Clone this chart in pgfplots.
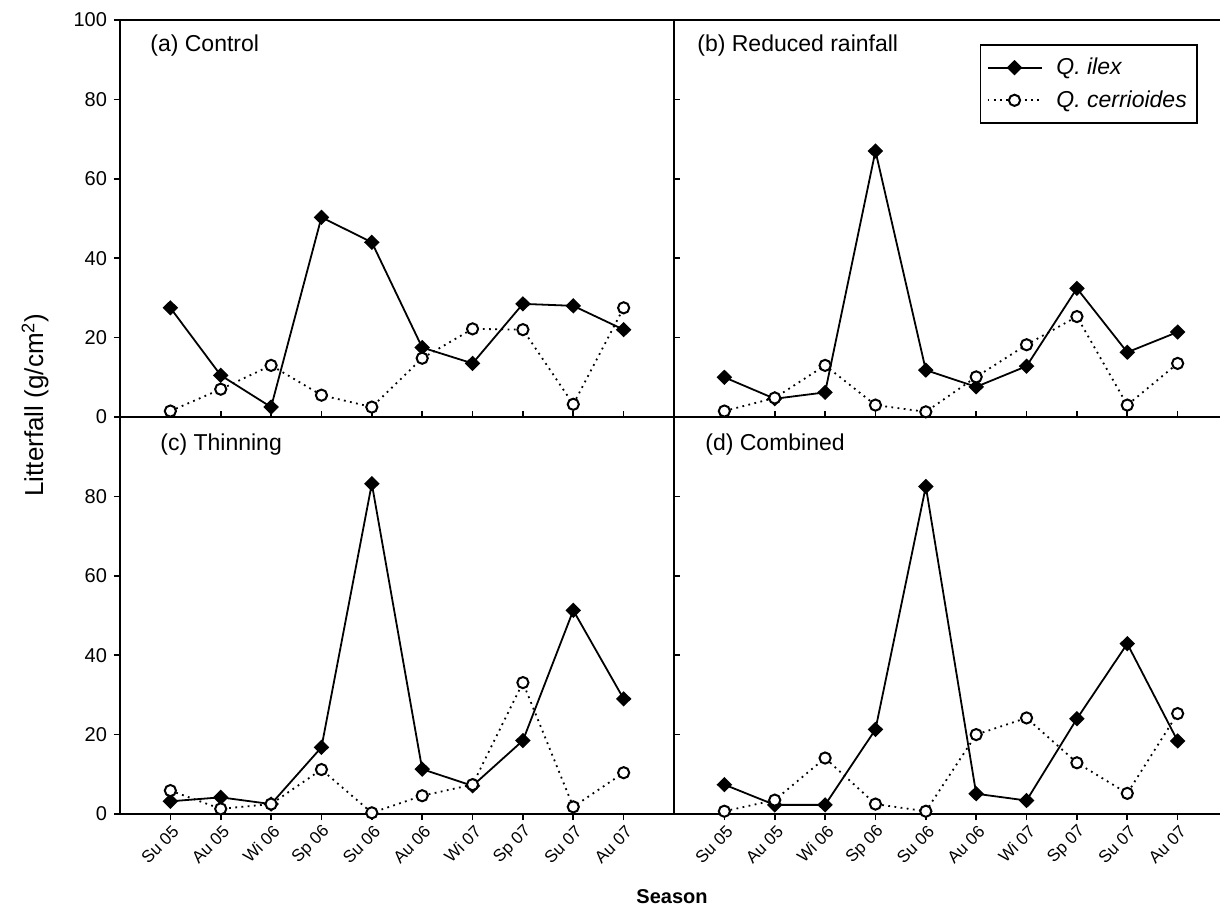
\documentclass[border=0pt]{standalone}
\usepackage{fontspec}
\setmainfont{Liberation Sans}
\usepackage{pgfplots}
\pgfplotsset{compat=1.18}

% seasonal litterfall of the two oak species under four treatments
\pgfplotsset{
  litter/.style={
    scale only axis, width=277pt, height=198.5pt,
    xmin=-1, xmax=10, ymin=0, ymax=100,
    xtick={0,...,9},
    axis line style={line width=1pt},
    every tick/.style={black, line width=0.8pt},
    major tick length=3pt,
    xtick pos=left, ytick pos=left,
    tick label style={font=\fontsize{10}{11}\selectfont},
    /pgf/number format/assume math mode=true,
    clip=false,
  },
  seasonlabels/.style={
    xticklabels={Su 05, Au 05, Wi 06, Sp 06, Su 06, Au 06, Wi 07, Sp 07, Su 07, Au 07},
    xticklabel style={rotate=45, anchor=east, font=\fontsize{8.5}{9}\selectfont, inner sep=1pt, yshift=-5pt},
  },
  ilex/.style={black, line width=0.9pt, mark=diamond*, mark size=3.2pt,
    mark options={solid, fill=black, xscale=1.35}},
  cerr/.style={black, line width=0.9pt, dash pattern=on 0.9pt off 2.2pt,
    mark=*, mark size=2.8pt, mark options={solid, draw=black, fill=white, line width=1pt}},
}
\tikzset{panel/.style={anchor=west, inner sep=0pt, font=\fontsize{11.5}{13}\selectfont}}

\begin{document}
\begin{tikzpicture}

% (a) Control
\begin{axis}[litter, at={(60pt,245pt)}, anchor=south west,
  xtick align=inside, ytick align=outside,
  ytick={0,20,...,100}, xticklabels={}]
\addplot[ilex] coordinates {(0,27.5) (1,10.5) (2,2.5) (3,50.3) (4,44.0) (5,17.5) (6,13.5) (7,28.5) (8,28.0) (9,22.0)};
\addplot[cerr] coordinates {(0,1.5) (1,7.0) (2,13.0) (3,5.5) (4,2.5) (5,14.8) (6,22.2) (7,22.0) (8,3.2) (9,27.5)};
\node[panel, xshift=15pt, yshift=-13pt] at (rel axis cs:0,1) {(a) Control};
\end{axis}

% (b) Reduced rainfall
\begin{axis}[litter, at={(337pt,245pt)}, anchor=south west,
  xtick align=inside, ytick align=inside,
  ytick={20,40,60,80}, yticklabels={}, xticklabels={},
  legend style={at={(0.552,0.9395)}, anchor=north west, draw=black, line width=0.8pt,
    font=\itshape\fontsize{11.5}{13}\selectfont, cells={anchor=west},
    inner xsep=3pt, inner ysep=4.5pt, row sep=2.5pt,
    /tikz/every odd column/.append style={column sep=5pt}},
  legend image code/.code={
    \draw[mark repeat=2, mark phase=2, #1] plot coordinates {(0pt,0pt) (13.5pt,0pt) (27pt,0pt)};
  }]
\addplot[ilex] coordinates {(0,10.0) (1,4.6) (2,6.2) (3,67.0) (4,11.8) (5,7.6) (6,12.8) (7,32.4) (8,16.3) (9,21.4)};
\addlegendentry{Q. ilex}
\addplot[cerr] coordinates {(0,1.5) (1,4.8) (2,13.0) (3,3.0) (4,1.3) (5,10.1) (6,18.2) (7,25.3) (8,3.0) (9,13.5)};
\addlegendentry{Q. cerrioides}
\node[panel, xshift=11.5pt, yshift=-13pt] at (rel axis cs:0,1) {(b) Reduced rainfall};
\end{axis}

% (c) Thinning
\begin{axis}[litter, seasonlabels, at={(60pt,46.5pt)}, anchor=south west,
  tick align=outside, ytick={0,20,...,80}]
\addplot[ilex] coordinates {(0,3.2) (1,4.2) (2,2.5) (3,16.8) (4,83.2) (5,11.3) (6,7.1) (7,18.5) (8,51.3) (9,29.0)};
\addplot[cerr] coordinates {(0,5.9) (1,1.3) (2,2.5) (3,11.2) (4,0.3) (5,4.6) (6,7.4) (7,33.1) (8,1.8) (9,10.4)};
\node[panel, xshift=20pt, yshift=-14pt] at (rel axis cs:0,1) {(c) Thinning};
\end{axis}

% (d) Combined
\begin{axis}[litter, seasonlabels, at={(337pt,46.5pt)}, anchor=south west,
  xtick align=outside, ytick align=inside,
  ytick={20,40,60,80}, yticklabels={}]
\addplot[ilex] coordinates {(0,7.4) (1,2.3) (2,2.3) (3,21.3) (4,82.5) (5,5.1) (6,3.4) (7,24.0) (8,42.9) (9,18.4)};
\addplot[cerr] coordinates {(0,0.7) (1,3.5) (2,14.1) (3,2.5) (4,0.7) (5,20.0) (6,24.2) (7,12.9) (8,5.2) (9,25.3)};
\node[panel, xshift=15.5pt, yshift=-14pt] at (rel axis cs:0,1) {(d) Combined};
\end{axis}

% shared axis titles
\node[rotate=90, font=\fontsize{13}{15}\selectfont] at (17.5pt,251pt) {Litterfall (g/cm\textsuperscript{2})};
\node[font=\bfseries\fontsize{10}{12}\selectfont] at (336pt,5.25pt) {Season};

\pgfresetboundingbox
\path[use as bounding box] (0pt,0pt) rectangle (610pt,453.5pt);
\end{tikzpicture}
\end{document}
